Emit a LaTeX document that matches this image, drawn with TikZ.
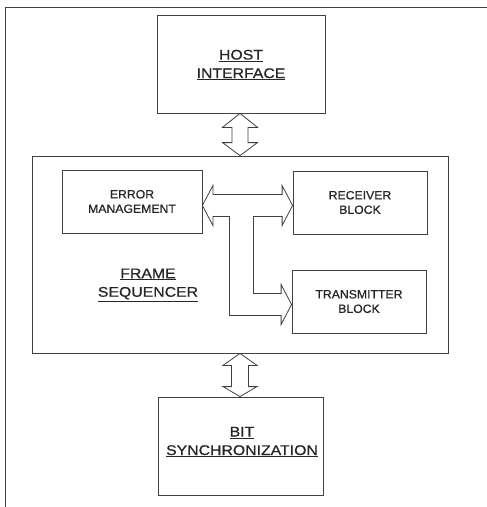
\documentclass[tikz,border=0pt]{standalone}
\usepackage{fontspec}
\setmainfont{Liberation Sans}
\newfontfamily\bigfont[FakeStretch=1.13,FakeBold=0.8]{Liberation Sans}
\newfontfamily\smallfont[FakeStretch=1.02,FakeBold=0.8]{Liberation Sans}
\usetikzlibrary{calc}
\tikzset{
  conn/.style={draw=black!75, line width=0.8pt, line join=miter},
  blk/.style={draw=black!75, line width=0.8pt, rectangle, inner sep=0pt, align=center, text=black!85},
  bigtxt/.style={font=\bigfont\fontsize{14}{18.5}\selectfont, align=center, text=black!85, inner sep=0pt},
  smalltxt/.style={font=\smallfont\fontsize{12}{14.5}\selectfont},
}
\begin{document}
\begin{tikzpicture}[x=1pt, y=-1pt]
\useasboundingbox (0,0) rectangle (487,507);
% outer frame (left and top edges)
\coordinate (fbl) at (5,507);
\coordinate (ftl) at (5,7);
\coordinate (ftr) at (487,7);
\draw[conn] (fbl) -- (ftl) -- (ftr);

% blocks
\node[blk, minimum width=168pt, minimum height=98pt] (host) at (241,64) {};
\node[bigtxt] (hostt) at (241,65) {\underline{HOST}\\\underline{INTERFACE}};

\node[blk, minimum width=416pt, minimum height=197pt] (frame) at (240,254.5) {};
\node[bigtxt] (framet) at (148,285) {\underline{FRAME}\\\underline{SEQUENCER}};

\node[blk, smalltxt, minimum width=140pt, minimum height=63pt] (err) at (132,201.5) {ERROR\\MANAGEMENT};
\node[blk, smalltxt, minimum width=134pt, minimum height=63pt] (rcv) at (360,202.5) {RECEIVER\\BLOCK};
\node[blk, smalltxt, minimum width=134pt, minimum height=63pt] (tx) at (359,301.5) {TRANSMITTER\\BLOCK};

\node[blk, minimum width=165pt, minimum height=98pt] (bit) at (240.5,446) {};
\node[bigtxt] (bitt) at (242,442) {\underline{BIT}\\\underline{SYNCHRONIZATION}};

% host <-> frame double arrow
\draw[conn] let \p1=(host.south), \p2=(frame.north) in
  (\x2,\y1) -- (\x2+17.5pt,\y1-14pt) -- (\x2+8pt,\y1-14pt) -- (\x2+8pt,\y2+13pt)
  -- (\x2+17.5pt,\y2+13pt) -- (\x2,\y2) -- (\x2-17.5pt,\y2+13pt) -- (\x2-8pt,\y2+13pt)
  -- (\x2-8pt,\y1-14pt) -- (\x2-17.5pt,\y1-14pt) -- cycle;

% frame <-> bit double arrow
\draw[conn] let \p1=(frame.south), \p2=(bit.north) in
  (\x1,\y1) -- (\x1+17pt,\y1-12pt) -- (\x1+8.5pt,\y1-12pt) -- (\x1+8.5pt,\y2+10pt)
  -- (\x1+17pt,\y2+10pt) -- (\x1,\y2) -- (\x1-17pt,\y2+10pt) -- (\x1-8.5pt,\y2+10pt)
  -- (\x1-8.5pt,\y1-12pt) -- (\x1-17pt,\y1-12pt) -- cycle;

% T-shaped bus arrow: error <-> receiver, and to transmitter
\draw[conn] let \p1=($(err.east)+(0,4)$), \p2=(rcv.west), \p3=($(tx.west)+(0,3)$) in
  (\x1,\y1) -- (\x1+10.5pt,\y1+20pt) -- (\x1+10.5pt,\y1+11pt)
  -- (\x2-10.5pt,\y1+11pt) -- (\x2-10.5pt,\y1+20pt) -- (\x2,\y1)
  -- (\x2-10.5pt,\y1-20pt) -- (\x2-10.5pt,\y1-11pt)
  -- (\x1+51pt,\y1-11pt) -- (\x1+51pt,\y3+11pt)
  -- (\x3-10.5pt,\y3+11pt) -- (\x3-10.5pt,\y3+20pt) -- (\x3,\y3)
  -- (\x3-10.5pt,\y3-20pt) -- (\x3-10.5pt,\y3-11pt)
  -- (\x1+27pt,\y3-11pt) -- (\x1+27pt,\y1-11pt)
  -- (\x1+10.5pt,\y1-11pt) -- (\x1+10.5pt,\y1-20pt) -- cycle;
\end{tikzpicture}
\end{document}
